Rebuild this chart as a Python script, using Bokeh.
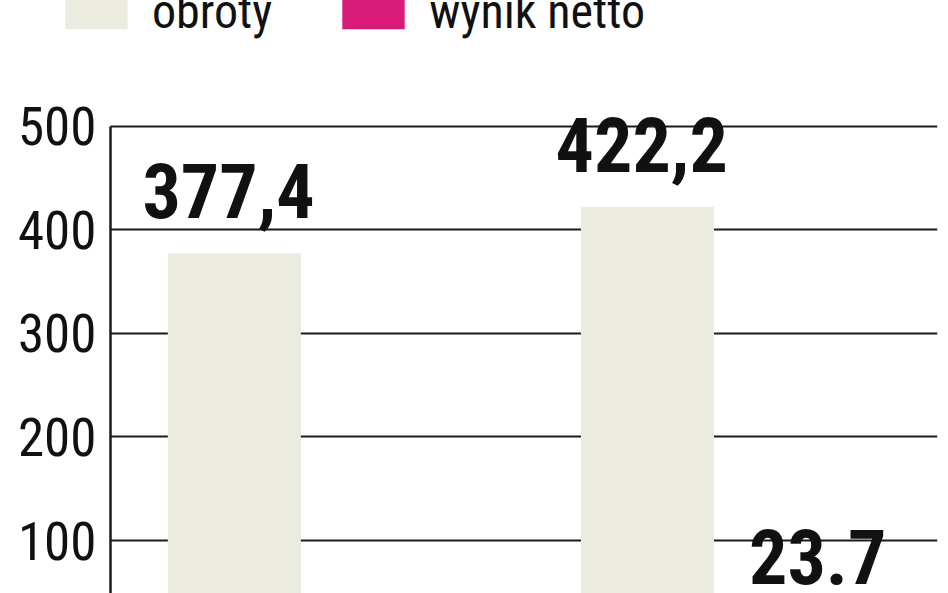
from bokeh.embed import file_html
from bokeh.resources import INLINE
from bokeh.plotting import figure
from bokeh.models import (ColumnDataSource, Range1d, Legend, LegendItem,
                          FixedTicker, LabelSet)
from bokeh.transform import dodge
from bokeh.core.properties import value

# data (the lower part of the chart is cropped away)
periods = ["okres 1", "okres 2"]
obroty = [377.4, 422.2]
wynik_netto = [float("nan"), 23.7]
obroty_labels = ["377,4", "422,2"]
wynik_labels = ["", "23.7"]
y_ticks = [100, 200, 300, 400, 500]

BEIGE = "#EBEBDF"
MAGENTA = "#D81B78"
FONT = "Roboto Condensed"

pos = list(range(len(periods)))
src = ColumnDataSource(dict(pos=pos, obroty=obroty, wynik=wynik_netto,
                            ob_lab=obroty_labels, wy_lab=wynik_labels))

p = figure(width=948, height=593, x_range=Range1d(-0.772, 1.496),
           y_range=Range1d(48.8, 621.7), x_axis_location=None,
           output_backend="svg", toolbar_location=None,
           min_border_left=0, min_border_right=11,
           min_border_top=0, min_border_bottom=0)
p.outline_line_color = None
p.background_fill_color = "white"

r_ob = p.vbar(x=dodge("pos", -0.206), top="obroty", width=0.322,
              source=src, fill_color=BEIGE, line_color=None)
r_wy = p.vbar(x=dodge("pos", 0.206), top="wynik", width=0.322,
              source=src, fill_color=MAGENTA, line_color=None)

# value labels above the bars
for off, col, lab in [(-0.22, "obroty", "ob_lab"), (0.206, "wynik", "wy_lab")]:
    p.add_layout(LabelSet(x=dodge("pos", off), y=col, text=lab, source=src,
                          text_font=value(FONT), text_font_style="bold",
                          text_font_size="76px", text_color="#111111",
                          text_align="center", text_baseline="alphabetic",
                          y_offset=35))

ax = p.yaxis[0]
ax.fixed_location = -0.506
ax.ticker = FixedTicker(ticks=y_ticks)
ax.bounds = (0, 500)
ax.axis_line_color = "#1a1a1a"
ax.axis_line_width = 2.5
ax.major_tick_line_color = None
ax.minor_tick_line_color = None
ax.major_label_text_font = FONT
ax.major_label_text_font_size = "53px"
ax.major_label_text_color = "#111111"
ax.major_label_standoff = 8

p.xgrid.visible = False
p.ygrid.ticker = FixedTicker(ticks=y_ticks)
p.ygrid.cross_bounds = (-0.506, 1.496)
p.ygrid.grid_line_color = "#1a1a1a"
p.ygrid.grid_line_width = 2

legend = Legend(items=[LegendItem(label="obroty", renderers=[r_ob]),
                       LegendItem(label="wynik netto", renderers=[r_wy])],
                orientation="horizontal", location=(57, 553),
                glyph_width=78, glyph_height=42, label_standoff=17,
                spacing=62, padding=0, margin=0,
                border_line_color=None, background_fill_alpha=0,
                label_text_font=FONT, label_text_font_size="48px",
                label_text_color="#111111")
p.add_layout(legend, "center")

open("out.html", "w").write(file_html(p, INLINE))
